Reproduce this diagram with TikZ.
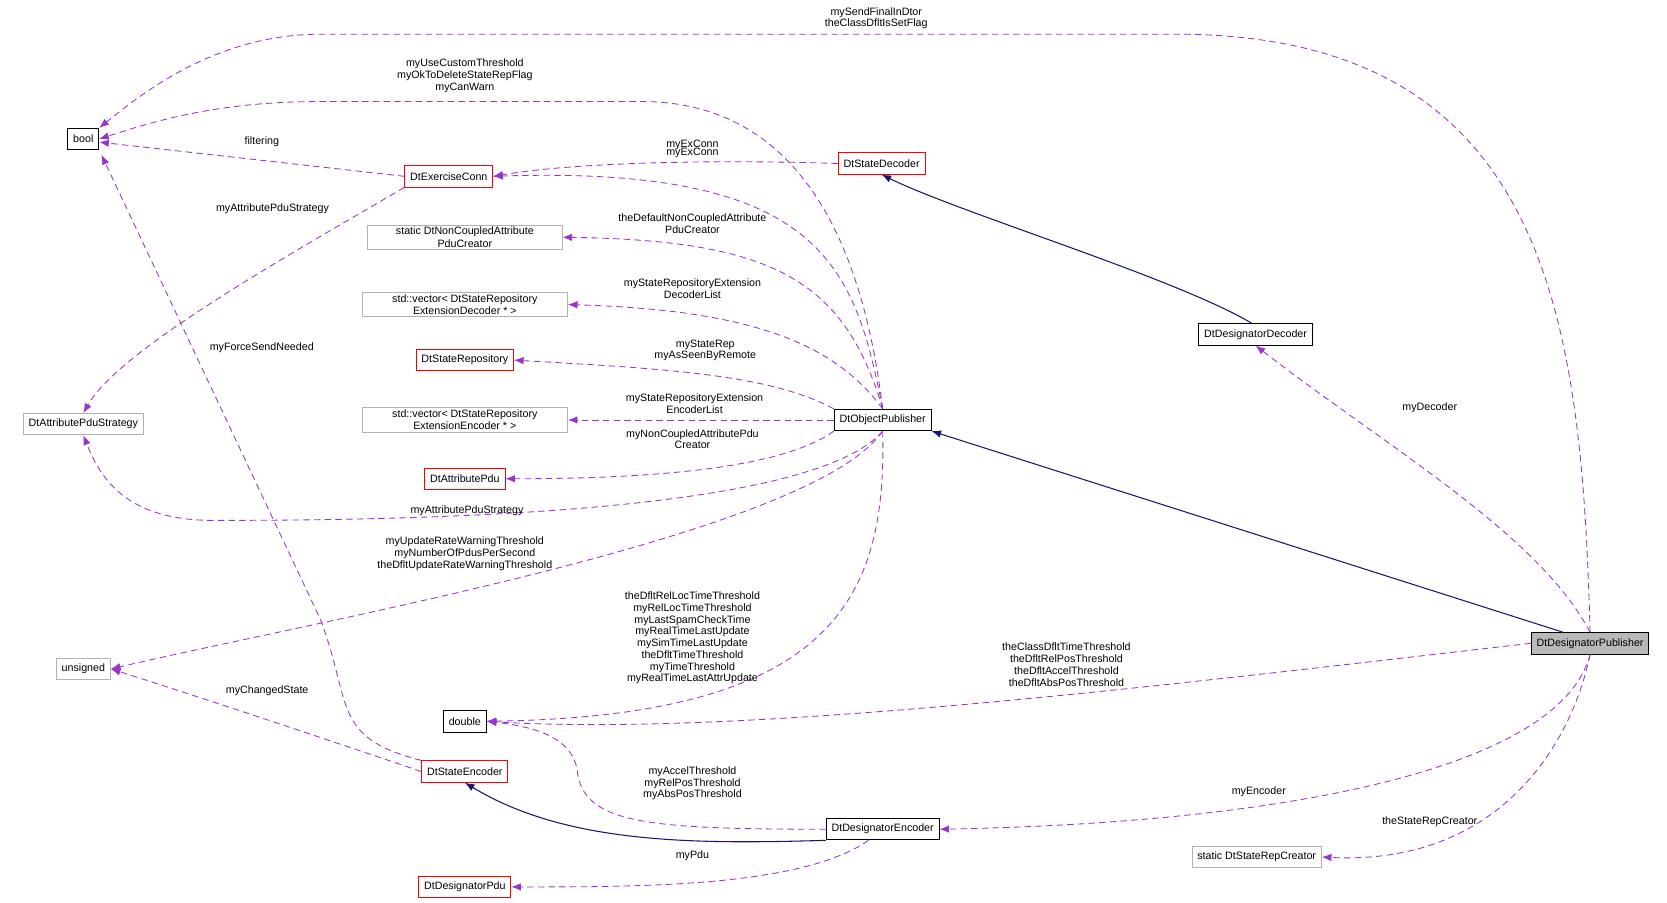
\documentclass[tikz,border=0pt]{standalone}
\usepackage{fontspec}
\setmainfont{Liberation Sans}
\usetikzlibrary{arrows.meta}
\definecolor{pur}{HTML}{9A32CD}
\definecolor{nav}{HTML}{191970}
\begin{document}
\begin{tikzpicture}[x=1pt,y=-1pt,
 font=\fontsize{10}{11.5}\selectfont,
 box/.style={draw,line width=0.8pt,minimum height=20pt,inner xsep=5pt,inner ysep=2pt,align=center,fill=white},
 red/.style={box,draw=red},
 gray/.style={box,draw=gray!60},
 blk/.style={box,draw=black},
 dep/.style={draw=pur,dashed,dash pattern=on 6pt off 4pt,line width=0.8pt,-{Latex[length=9pt,width=7pt]}},
 inh/.style={draw=nav,line width=1pt,-{Latex[length=9pt,width=7pt]}},
 lab/.style={align=center,inner sep=1pt,font=\fontsize{10}{11}\selectfont}]
\useasboundingbox (0,0) rectangle (1560,845);
\node[blk] (bool) at (78,130) {bool};
\node[red] (ec) at (420,165) {DtExerciseConn};
\node[red] (sd) at (825,153) {DtStateDecoder};
\node[gray,minimum width=182pt] (nc) at (435,222) {static DtNonCoupledAttribute\\PduCreator};
\node[gray,minimum width=192pt] (vd) at (435,285) {std::vector< DtStateRepository\\ExtensionDecoder * >};
\node[red] (sr) at (435,337) {DtStateRepository};
\node[gray,minimum width=192pt] (ve) at (435,393) {std::vector< DtStateRepository\\ExtensionEncoder * >};
\node[red] (ap) at (435,448) {DtAttributePdu};
\node[gray] (aps) at (78,397) {DtAttributePduStrategy};
\node[blk] (op) at (826,393) {DtObjectPublisher};
\node[blk] (dd) at (1175,313) {DtDesignatorDecoder};
\node[box,fill=gray!55] (ddp) at (1488,602) {DtDesignatorPublisher};
\node[gray] (un) at (78,626) {unsigned};
\node[blk] (db) at (435,675) {double};
\node[red] (se) at (435,722) {DtStateEncoder};
\node[blk] (de) at (826,776) {DtDesignatorEncoder};
\node[red] (dp) at (435,830) {DtDesignatorPdu};
\node[gray] (src) at (1176,802) {static DtStateRepCreator};

% edges
\draw[dep] (ddp.north) ++(0,0) .. controls (1480,300) and (1450,32) .. (1100,32) -- (300,32) .. controls (200,32) and (130,90) .. (bool.north east);
\node[lab] at (820,17) {mySendFinalInDtor\\theClassDfltIsSetFlag};
\draw[dep] (op.north) .. controls (810,250) and (760,95) .. (600,95) -- (300,95) .. controls (200,95) and (140,115) .. (bool.east);
\node[lab] at (435,71) {myUseCustomThreshold\\myOkToDeleteStateRepFlag\\myCanWarn};
\draw[dep] (ec.west) -- (bool.east |- 0,133);
\node[lab] at (245,133) {filtering};
\draw[dep] (sd.west) .. controls (700,150) and (550,150) .. (ec.east);
\node[lab] at (648,136) {myExConn};
\node[lab] at (648,143) {myExConn};
\draw[dep] (op.north) .. controls (800,250) and (770,155) .. (ec.east);
\draw[dep] (ec.south west) .. controls (250,250) and (110,330) .. (aps.north);
\node[lab] at (255,195) {myAttributePduStrategy};
\draw[dep] (op.north) .. controls (790,260) and (720,225) .. (nc.east);
\node[lab] at (648,209) {theDefaultNonCoupledAttribute\\PduCreator};
\draw[dep] (op.north) .. controls (780,320) and (700,290) .. (vd.east);
\node[lab] at (648,270) {myStateRepositoryExtension\\DecoderList};
\draw[dep] (op.north west) .. controls (720,350) and (620,345) .. (sr.east);
\node[lab] at (660,328) {myStateRep\\myAsSeenByRemote};
\draw[dep] (op.west) -- (ve.east);
\node[lab] at (650,378) {myStateRepositoryExtension\\EncoderList};
\draw[dep] (op.south west) .. controls (730,440) and (600,448) .. (ap.east);
\node[lab] at (648,411) {myNonCoupledAttributePdu\\Creator};
\draw[dep] (op.south) .. controls (760,480) and (400,487) .. (200,487) .. controls (120,487) and (95,450) .. (aps.south);
\node[lab] at (437,478) {myAttributePduStrategy};
\draw[dep] (op.south) .. controls (760,500) and (300,580) .. (un.east);
\node[lab] at (435,518) {myUpdateRateWarningThreshold\\myNumberOfPdusPerSecond\\theDfltUpdateRateWarningThreshold};
\draw[dep] (op.south) .. controls (830,560) and (780,670) .. (db.east);
\node[lab] at (648,597) {theDfltRelLocTimeThreshold\\myRelLocTimeThreshold\\myLastSpamCheckTime\\myRealTimeLastUpdate\\mySimTimeLastUpdate\\theDfltTimeThreshold\\myTimeThreshold\\myRealTimeLastAttrUpdate};
\draw[dep] (ddp.west) .. controls (1100,640) and (700,690) .. (db.east);
\node[lab] at (998,622) {theClassDfltTimeThreshold\\theDfltRelPosThreshold\\theDfltAccelThreshold\\theDfltAbsPosThreshold};
\draw[dep] (se.north west) .. controls (310,690) and (330,660) .. (300,580) -- (95,145);
\node[lab] at (245,325) {myForceSendNeeded};
\draw[dep] (se.west) .. controls (300,690) and (180,650) .. (un.east);
\node[lab] at (250,646) {myChangedState};
\draw[dep] (de.west) .. controls (600,776) and (545,770) .. (540,720) .. controls (535,690) and (500,680) .. (db.east);
\node[lab] at (648,733) {myAccelThreshold\\myRelPosThreshold\\myAbsPosThreshold};
\draw[inh] (de.south west) .. controls (650,790) and (530,790) .. (se.south);
\draw[dep] (de.south west) ++(40,0) .. controls (750,830) and (600,830) .. (dp.east);
\node[lab] at (648,801) {myPdu};
\draw[dep] (ddp.south) .. controls (1460,720) and (1200,770) .. (de.east);
\node[lab] at (1178,741) {myEncoder};
\draw[dep] (ddp.south) .. controls (1470,700) and (1400,810) .. (src.east);
\node[lab] at (1338,769) {theStateRepCreator};
\draw[dep] (ddp.north) .. controls (1440,500) and (1300,420) .. (dd.south);
\node[lab] at (1338,382) {myDecoder};
\draw[inh] (ddp.north west) ++(30,0) -- (op.south east);
\draw[inh] (dd.north west) ++(50,0) .. controls (1100,260) and (900,200) .. (sd.south);
\end{tikzpicture}
\end{document}
